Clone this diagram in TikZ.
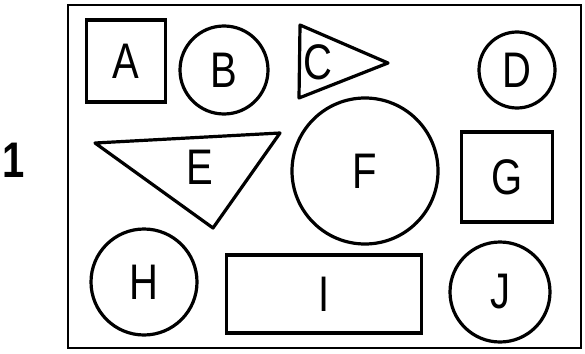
\documentclass[tikz,border=0pt]{standalone}
\usepackage{fontspec}
\setmainfont{Liberation Sans}[FakeStretch=0.8]
\usepackage{tikz}

\begin{document}
\begin{tikzpicture}[x=1pt, y=-1pt, line width=3.2pt,
    every node/.style={font=\fontsize{50}{54}\selectfont, inner sep=0pt},
    box/.style={draw, minimum width=#1},
    ring/.style={draw, circle, minimum size=#1}]
    \useasboundingbox (0,0) rectangle (585,353);

    % Draw frame and row number
    \draw[line width=2.8pt] (68,5) rectangle (581,348);
    \node[font=\fontsize{50}{54}\selectfont\bfseries] (one) at (14,160) {1};

    % First row
    \node[box=79pt, minimum height=82pt] (A) at (126,61) {A};
    \node[ring=88pt] (B) at (224,70) {B};
    \draw[line join=round] (300,25) -- (388,63) -- (299,98) -- cycle;
    \node (C) at (318,62) {C};
    \node[ring=76pt] (D) at (517,70) {D};

    % Second row
    \draw[line join=round] (95,143) -- (280,133) -- (213,228) -- cycle;
    \node (E) at (200,167) {E};
    \node[ring=146pt] (F) at (365,171) {F};
    \node[box=91pt, minimum height=90pt] (G) at (507,177) {G};

    % Third row
    \node[ring=106pt] (H) at (144,282) {H};
    \node[box=195pt, minimum height=78pt] (I) at (324,294) {I};
    \node[ring=100pt] (J) at (500,292) {J};
\end{tikzpicture}
\end{document}
